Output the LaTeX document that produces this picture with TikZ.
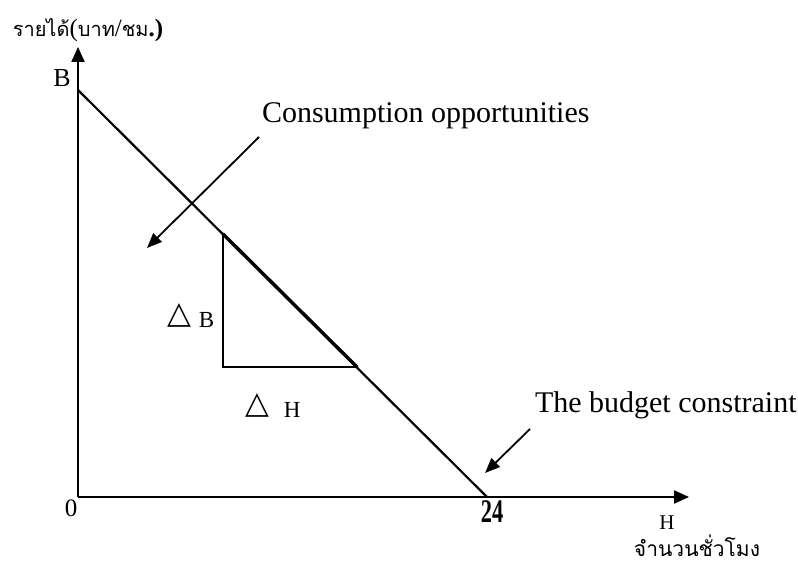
\documentclass[tikz,border=0pt]{standalone}
\usepackage{fontspec}
\setmainfont{Liberation Serif}
\newfontfamily\thaifont[Script=Thai]{Loma}
\newfontfamily\symfont{DejaVu Sans}
\usetikzlibrary{arrows.meta}
\begin{document}
\begin{tikzpicture}[x=1pt,y=-1pt,
  axisline/.style={line width=2pt,-{Triangle[length=15pt,width=13pt]}},
  budgetline/.style={line width=2.2pt},
  legline/.style={line width=1.7pt},
  hypline/.style={line width=3.4pt},
  pointer/.style={line width=1.8pt,-{Triangle[length=15pt,width=12pt]}},
  lbl/.style={inner sep=0pt,outer sep=0pt}]
\useasboundingbox (0,0) rectangle (798,569);
\fill[white] (0,0) rectangle (798,569);
% axes
\coordinate (O) at (78,497);
\coordinate (Ytip) at (78,47);
\coordinate (Xtip) at (689,497);
\draw[axisline] (O) -- (Ytip);
\draw[axisline] (O) -- (Xtip);
% budget line
\coordinate (Bpt) at (78,90);
\coordinate (P24) at (487,497);
\draw[budgetline] (Bpt) -- (P24);
% slope triangle
\coordinate (T1) at (223,234);
\coordinate (T2) at (223,367);
\coordinate (T3) at (357,367);
\draw[legline] (T1) -- (T2) -- (T3);
\draw[hypline,line cap=round] (T1) -- (T3);
% labels
\node[lbl] (ylab) at (88,30) {\fontsize{20}{24}\thaifont รายได้\fontsize{25}{28}\rmfamily(\thaifont\fontsize{20}{24}\selectfont บาท\rmfamily\fontsize{25}{28}\selectfont/\thaifont\fontsize{20}{24}\selectfont ชม\rmfamily\fontsize{25}{28}\selectfont\textbf{.)}};
\node[lbl] (Blab) at (62,78) {\fontsize{26}{28}\selectfont B};
\node[lbl] (zero) at (71,508) {\fontsize{25}{28}\selectfont 0};
\node[lbl] (n24) at (492,512) {\scalebox{0.68}[1]{\fontsize{33}{34}\selectfont\bfseries 24}};
\node[lbl] (Hlab) at (667,523) {\fontsize{21}{24}\selectfont H};
\node[lbl] (xlab) at (697,546) {\fontsize{21}{24}\thaifont จำนวนชั่วโมง};
\node[lbl,anchor=base west] (cons) at (262,123) {\fontsize{30}{34}\selectfont Consumption opportunities};
\node[lbl,anchor=base west] (bud) at (535,412) {\fontsize{30}{34}\selectfont The budget constraint};
\node[lbl,anchor=base west] (dB) at (167,327) {\raisebox{4pt}{\fontsize{31}{32}\symfont △}\hspace{8pt}{\fontsize{23}{24}\selectfont B}};
\node[lbl,anchor=base west] (dH) at (245,417) {\raisebox{4pt}{\fontsize{31}{32}\symfont △}\hspace{15pt}{\fontsize{23}{24}\selectfont H}};
% pointers
\coordinate (c1) at (259,137);
\coordinate (c2) at (147,248);
\draw[pointer] (c1) -- (c2);
\coordinate (b1) at (530,429);
\coordinate (b2) at (485,473);
\draw[pointer] (b1) -- (b2);
\end{tikzpicture}
\end{document}
